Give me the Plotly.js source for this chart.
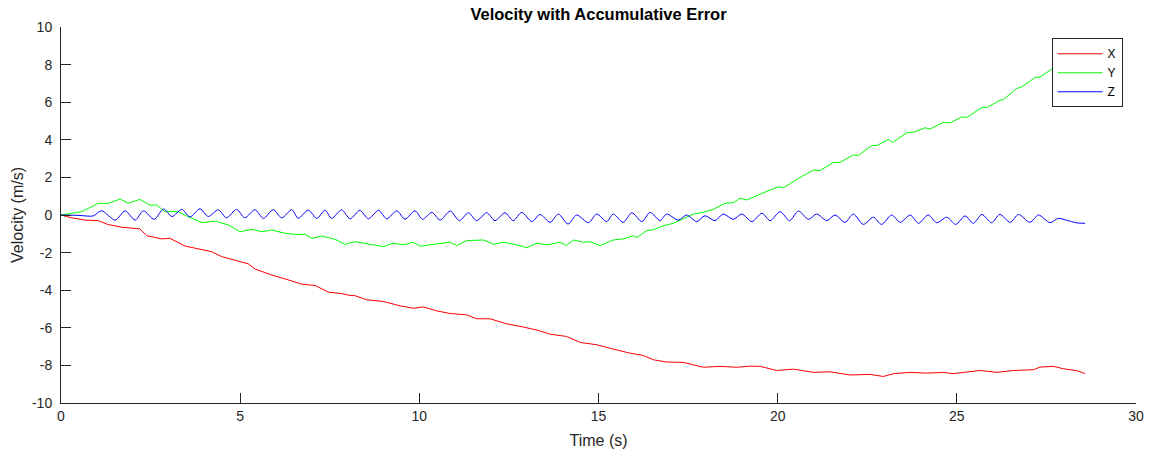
<!DOCTYPE html>
<html>
<head>
<meta charset="utf-8">
<script src="https://cdn.plot.ly/plotly-3.0.1.min.js"></script>
<style>html,body{margin:0;padding:0;background:#fff;}#chart{width:1155px;height:457px;}</style>
</head>
<body>
<div id="chart"></div>
<script>
// ---- Data ----
var chartTitle = "Velocity with Accumulative Error";
var seriesNames = ["X", "Y", "Z"];
var xTickVals = [0, 5, 10, 15, 20, 25, 30];
var yTickVals = [-10, -8, -6, -4, -2, 0, 2, 4, 6, 8, 10];

// X velocity
var tX = [0,0.3,0.67,1.04,1.3,1.7,2.2,2.39,2.81,3.04,
  3.46,3.83,4.2,4.48,4.86,5.23,5.41,5.88,6.34,6.72,
  7.09,7.46,7.83,8.07,8.2,8.53,9.0,9.46,9.83,10.11,
  10.49,10.86,11.32,11.6,11.97,12.44,12.9,13.28,13.65,14.11,
  14.49,14.95,15.41,15.88,16.25,16.53,16.9,17.37,17.93,18.39,
  18.86,19.23,19.51,19.97,20.44,21.0,21.46,22.02,22.58,22.95,
  23.23,23.7,24.16,24.62,24.9,25.28,25.65,26.12,26.58,27.14,
  27.32,27.7,27.97,28.35,28.58];
var vX = [0,-0.15,-0.27,-0.3,-0.5,-0.65,-0.74,-1.1,-1.27,-1.24,
  -1.65,-1.81,-1.95,-2.21,-2.39,-2.6,-2.87,-3.19,-3.45,-3.68,
  -3.75,-4.1,-4.18,-4.28,-4.29,-4.51,-4.6,-4.83,-4.96,-4.89,
  -5.1,-5.24,-5.31,-5.52,-5.52,-5.79,-5.96,-6.12,-6.34,-6.46,
  -6.78,-6.9,-7.13,-7.35,-7.47,-7.7,-7.82,-7.84,-8.1,-8.05,
  -8.1,-8.04,-8.05,-8.27,-8.2,-8.37,-8.34,-8.51,-8.48,-8.59,
  -8.44,-8.37,-8.41,-8.37,-8.44,-8.34,-8.27,-8.37,-8.27,-8.23,
  -8.09,-8.05,-8.18,-8.28,-8.44];

// Y velocity
var tY = [0,0.58,1.04,1.32,1.65,1.88,2.2,2.48,2.67,2.9,
  3.27,3.55,3.93,4.3,4.67,5.0,5.32,5.6,5.88,6.25,
  6.53,6.81,7.0,7.28,7.65,7.93,8.2,8.53,9.0,9.27,
  9.55,9.83,10.02,10.39,10.86,11.04,11.32,11.79,12.07,12.34,
  12.72,13.0,13.28,13.56,13.93,14.11,14.3,14.58,14.76,15.04,
  15.41,15.69,15.97,16.07,16.35,16.53,16.81,17.09,17.37,17.65,
  17.93,18.2,18.53,18.76,18.95,19.14,19.56,20.02,20.16,20.58,
  21.0,21.18,21.56,21.74,22.11,22.25,22.63,22.77,23.09,23.21,
  23.6,23.83,24.11,24.25,24.62,24.81,25.14,25.28,25.7,25.84,
  26.21,26.3,26.67,26.81,27.18,27.32,27.6,27.9,28.2,28.58];
var vY = [0,0.18,0.62,0.62,0.85,0.62,0.83,0.53,0.53,0.18,
  0.18,-0.09,-0.41,-0.32,-0.53,-0.89,-0.76,-0.89,-0.8,-0.97,
  -1.03,-1.03,-1.24,-1.12,-1.29,-1.56,-1.42,-1.53,-1.68,-1.5,
  -1.59,-1.45,-1.66,-1.56,-1.45,-1.62,-1.36,-1.33,-1.56,-1.45,
  -1.59,-1.74,-1.5,-1.59,-1.45,-1.62,-1.33,-1.45,-1.42,-1.62,
  -1.33,-1.27,-1.1,-1.2,-0.83,-0.78,-0.58,-0.44,-0.18,0.05,
  0.15,0.3,0.62,0.66,0.89,0.8,1.15,1.5,1.45,1.95,
  2.39,2.36,2.8,2.8,3.19,3.16,3.7,3.7,4.02,3.86,
  4.37,4.42,4.64,4.57,4.92,4.9,5.22,5.19,5.72,5.72,
  6.11,6.14,6.73,6.81,7.31,7.34,7.7,8.05,8.4,8.8];

// Z velocity: oscillation peaks, troughs and edge points
var zPeakT = [1.13,1.79,2.30,2.86,3.37,3.88,4.39,4.90,5.41,5.92,
  6.44,6.90,7.37,7.83,8.34,8.86,9.37,9.88,10.35,10.86,
  11.37,11.88,12.39,12.86,13.37,13.88,14.39,14.95,15.41,15.93,
  16.44,16.90,17.46,17.97,18.48,19.00,19.56,20.07,20.58,21.09,
  21.60,22.11,22.67,23.18,23.70,24.20,24.72,25.23,25.70,26.20,
  26.72,27.28,27.83];
var zPeakV = [0.23,0.22,0.22,0.32,0.30,0.33,0.28,0.30,0.28,0.28,
  0.28,0.26,0.26,0.27,0.25,0.25,0.22,0.22,0.14,0.21,
  0.12,0.12,0.12,0.14,0.03,0.05,0.00,0.05,0.05,0.12,
  0.14,0.05,0.00,-0.04,0.05,0.05,0.09,0.18,0.21,0.05,
  0.00,0.05,-0.12,0.00,0.00,0.00,-0.12,-0.05,0.03,0.03,
  0.03,0.00,-0.18];
var zTroughT = [1.51,2.07,2.60,3.10,3.60,4.11,4.62,5.13,5.65,6.16,
  6.62,7.14,7.55,8.07,8.58,9.09,9.60,10.09,10.58,11.12,
  11.60,12.11,12.62,13.14,13.65,14.15,14.72,15.23,15.69,16.21,
  16.72,17.23,17.74,18.25,18.76,19.28,19.79,20.33,20.86,21.37,
  21.88,22.39,22.90,23.42,23.93,24.44,24.97,25.46,25.97,26.49,
  27.04,27.60];
var zTroughV = [-0.27,-0.27,-0.23,-0.08,-0.10,-0.08,-0.15,-0.15,-0.18,-0.15,
  -0.18,-0.18,-0.18,-0.20,-0.20,-0.20,-0.22,-0.23,-0.27,-0.30,
  -0.30,-0.30,-0.30,-0.35,-0.39,-0.48,-0.41,-0.35,-0.39,-0.35,
  -0.30,-0.27,-0.35,-0.30,-0.23,-0.35,-0.30,-0.30,-0.23,-0.30,
  -0.39,-0.50,-0.50,-0.39,-0.44,-0.41,-0.50,-0.44,-0.41,-0.39,
  -0.39,-0.41];
var zEdgeT = [0, 0.5, 0.9, 28.05, 28.35, 28.58];
var zEdgeV = [0, -0.02, -0.05, -0.27, -0.42, -0.44];

// ---- Build Z series (merge and sort by time) ----
var zPts = [];
function addPts(ts, vs) { for (var i = 0; i < Math.min(ts.length, vs.length); i++) zPts.push([ts[i], vs[i]]); }
addPts(zEdgeT, zEdgeV); addPts(zPeakT, zPeakV); addPts(zTroughT, zTroughV);
zPts.sort(function (a, b) { return a[0] - b[0]; });
var tZ = zPts.map(function (p) { return p[0]; });
var vZ = zPts.map(function (p) { return p[1]; });

var FONT = "Liberation Sans, Arial, Helvetica, sans-serif";
var AX = "#262626";

var traces = [
  {x: tX, y: vX, name: seriesNames[0], type: "scatter", mode: "lines", line: {color: "#ff0000", width: 1}},
  {x: tY, y: vY, name: seriesNames[1], type: "scatter", mode: "lines", line: {color: "#00ff00", width: 1}},
  {x: tZ, y: vZ, name: seriesNames[2], type: "scatter", mode: "lines", line: {color: "#0000ff", width: 1, shape: "spline", smoothing: 0.8}}
];

var layout = {
  width: 1155, height: 457,
  margin: {l: 61, r: 19, t: 27, b: 54, pad: 0},
  paper_bgcolor: "#ffffff", plot_bgcolor: "#ffffff",
  font: {family: FONT, size: 14, color: AX},
  title: {text: "<b>" + chartTitle + "</b>", font: {family: FONT, size: 16.5, color: "#000000"},
          x: 0.5, xref: "paper", xanchor: "center", y: 1 - 14.5 / 457, yref: "container", yanchor: "middle"},
  xaxis: {
    range: [0, 30], tickvals: xTickVals, ticktext: xTickVals.map(String),
    ticks: "inside", ticklen: 10, tickwidth: 1, tickcolor: AX,
    showline: true, linecolor: AX, linewidth: 1, mirror: false,
    showgrid: false, zeroline: false,
    tickfont: {family: FONT, size: 14, color: AX},
    title: {text: "Time (s)", font: {family: FONT, size: 16, color: AX}, standoff: 12}
  },
  yaxis: {
    range: [-10, 10], tickvals: yTickVals, ticktext: yTickVals.map(String),
    ticks: "inside", ticklen: 10, tickwidth: 1, tickcolor: AX,
    showline: true, linecolor: AX, linewidth: 1, mirror: false,
    showgrid: false, zeroline: false, ticklabelstandoff: 5,
    tickfont: {family: FONT, size: 14, color: AX},
    title: {text: "Velocity (m/s)", font: {family: FONT, size: 16, color: AX}, standoff: 4}
  },
  showlegend: true,
  legend: {
    x: 0.9875, y: 0.97, xanchor: "right", yanchor: "top",
    bgcolor: "#ffffff", bordercolor: AX, borderwidth: 1,
    font: {family: FONT, size: 12, color: "#000000"},
    tracegroupgap: 0, itemwidth: 45
  }
};

Plotly.newPlot("chart", traces, layout, {displayModeBar: false, staticPlot: true});
</script>
</body>
</html>
